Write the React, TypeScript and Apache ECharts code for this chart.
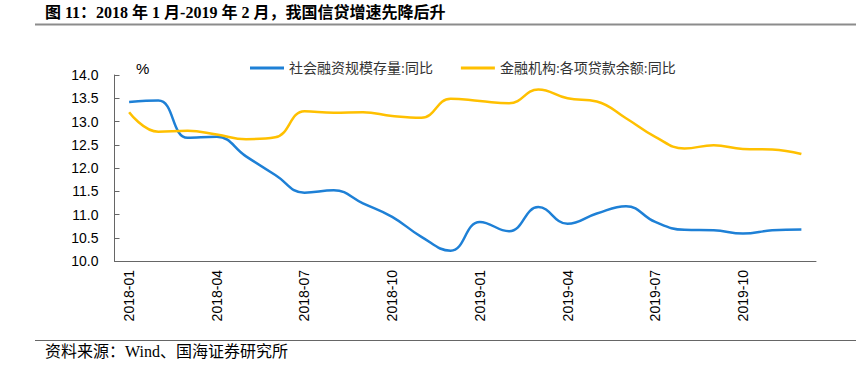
import React, { useEffect, useRef } from "react";
import * as echarts from "echarts";

const categories = [
  "2018-01", "2018-02", "2018-03", "2018-04", "2018-05", "2018-06",
  "2018-07", "2018-08", "2018-09", "2018-10", "2018-11", "2018-12",
  "2019-01", "2019-02", "2019-03", "2019-04", "2019-05", "2019-06",
  "2019-07", "2019-08", "2019-09", "2019-10", "2019-11", "2019-12",
];

const tsfName = "社会融资规模存量:同比";
const tsfValues = [
  13.42, 13.45, 12.65, 12.67, 12.25, 11.85, 11.47, 11.52, 11.24, 10.95, 10.52, 10.22,
  10.84, 10.64, 11.16, 10.8, 11.02, 11.18, 10.84, 10.67, 10.66, 10.59, 10.66, 10.68,
];

const loanName = "金融机构:各项贷款余额:同比";
const loanValues = [
  13.2, 12.78, 12.8, 12.72, 12.62, 12.66, 13.22, 13.19, 13.2, 13.12, 13.08, 13.49,
  13.44, 13.39, 13.69, 13.5, 13.43, 13.07, 12.67, 12.42, 12.49, 12.41, 12.4, 12.3,
];

const titleText = "图 11：2018 年 1 月-2019 年 2 月，我国信贷增速先降后升";
const sourceText = "资料来源：Wind、国海证券研究所";
const unitText = "%";

const serifCJK = "'Liberation Serif', 'Noto Sans CJK SC', serif";
const sans = "'Liberation Sans', Arial, sans-serif";

export default function App() {
  const ref = useRef<HTMLDivElement>(null);
  useEffect(() => {
    if (!ref.current) return;
    const chart = echarts.init(ref.current, null, { renderer: "svg" });
    chart.setOption({
      animation: false,
      backgroundColor: "#ffffff",
      grid: { left: 114.5, right: 40, top: 75, bottom: 114, containLabel: false },
      legend: {
        left: 245,
        top: 56,
        itemWidth: 34,
        itemHeight: 3,
        itemGap: 28,
        icon: "rect",
        textStyle: { fontFamily: serifCJK, fontSize: 14, color: "#333" },
        data: [tsfName, loanName],
      },
      xAxis: {
        type: "category",
        data: categories,
        boundaryGap: true,
        axisLine: { lineStyle: { color: "#666", width: 1 } },
        axisTick: { inside: true, length: 5, interval: 2, lineStyle: { color: "#666" } },
        axisLabel: {
          interval: 2,
          rotate: 90,
          margin: 9,
          fontFamily: sans,
          fontSize: 14,
          color: "#000",
        },
        splitLine: { show: false },
      },
      yAxis: {
        type: "value",
        min: 10,
        max: 14,
        interval: 0.5,
        axisLine: { show: true, lineStyle: { color: "#666", width: 1 } },
        axisTick: { show: true, inside: true, length: 5, lineStyle: { color: "#666" } },
        axisLabel: {
          margin: 16,
          fontFamily: sans,
          fontSize: 14,
          color: "#000",
          formatter: (v: number) => v.toFixed(1),
        },
        splitLine: { show: false },
      },
      series: [
        {
          name: tsfName,
          type: "line",
          data: tsfValues,
          smooth: 0.45,
          symbol: "none",
          lineStyle: { color: "#1E80D6", width: 2.5 },
          itemStyle: { color: "#1E80D6" },
        },
        {
          name: loanName,
          type: "line",
          data: loanValues,
          smooth: 0.45,
          symbol: "none",
          lineStyle: { color: "#FFC000", width: 2.5 },
          itemStyle: { color: "#FFC000" },
        },
      ],
      graphic: [
        {
          type: "text",
          left: 45,
          top: 4,
          style: {
            text: titleText,
            fontFamily: serifCJK,
            fontWeight: "bold",
            fontSize: 16,
            fill: "#000",
          },
        },
        {
          type: "line",
          shape: { x1: 35, y1: 24.5, x2: 856, y2: 24.5 },
          style: { stroke: "#8c8c8c", lineWidth: 2 },
        },
        {
          type: "text",
          left: 136,
          top: 61,
          style: { text: unitText, fontFamily: sans, fontSize: 15, fill: "#000" },
        },
        {
          type: "line",
          shape: { x1: 35, y1: 340.5, x2: 856, y2: 340.5 },
          style: { stroke: "#666", lineWidth: 1 },
        },
        {
          type: "text",
          left: 45,
          top: 343,
          style: { text: sourceText, fontFamily: serifCJK, fontSize: 16, fill: "#000" },
        },
      ],
    });
    return () => chart.dispose();
  }, []);
  return (
    <div
      ref={ref}
      style={{ position: "fixed", left: 0, top: 0, width: 856, height: 375 }}
    />
  );
}
